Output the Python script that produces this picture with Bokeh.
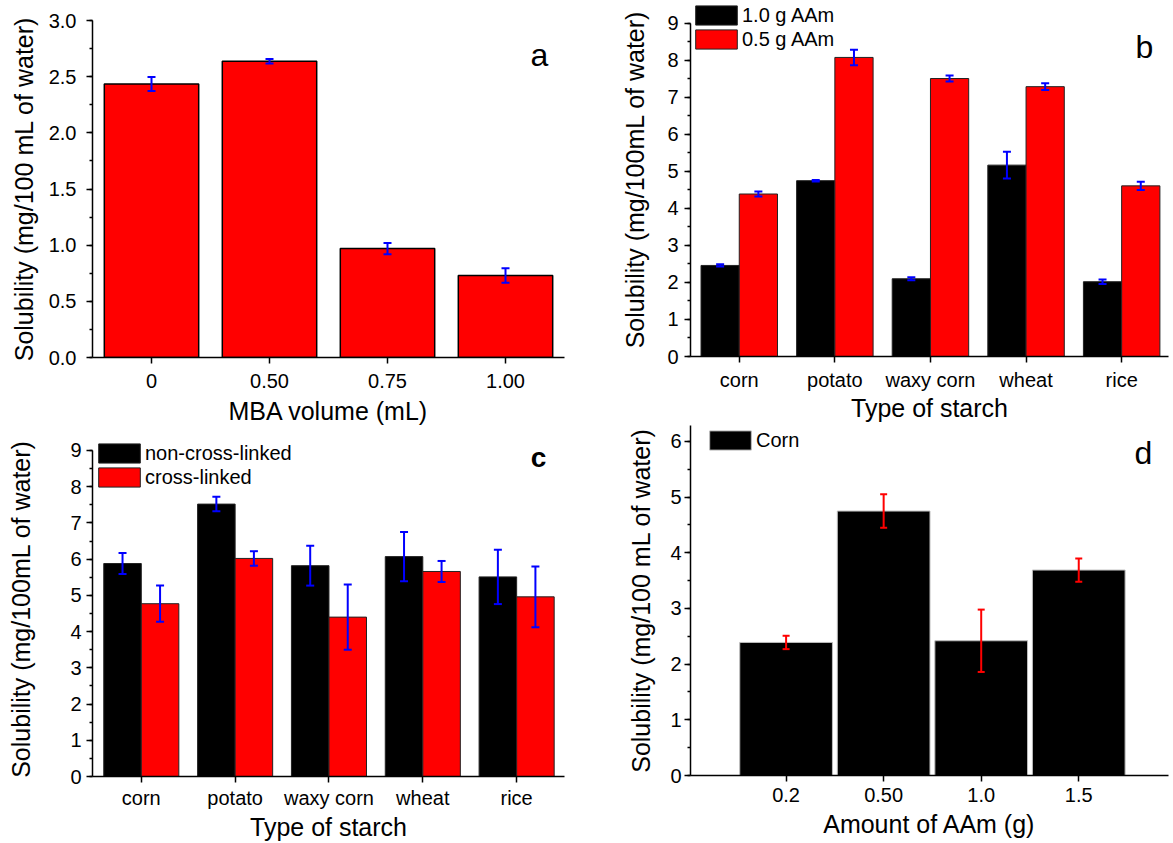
import numpy as np
from bokeh.plotting import figure
from bokeh.models import (ColumnDataSource, Whisker, TeeHead, SingleIntervalTicker, FixedTicker,
                          PrintfTickFormatter, Legend, LegendItem, Label, Range1d)
from bokeh.layouts import row, column
from bokeh.transform import dodge
from bokeh.embed import file_html
from bokeh.resources import INLINE

FONT = "Liberation Sans"
RED = "#FF0000"
BLUE = "#0000FF"

# ---- data ----
# panel a
mba_labels = ["0", "0.50", "0.75", "1.00"]
mba_solubility = [2.435, 2.638, 0.97, 0.73]
mba_error = [0.062, 0.02, 0.05, 0.065]

# panel b
starch_labels = ["corn", "potato", "waxy corn", "wheat", "rice"]
aam10_solubility = [2.46, 4.75, 2.10, 5.17, 2.02]
aam10_error = [0.03, 0.02, 0.04, 0.36, 0.06]
aam05_solubility = [4.39, 8.08, 7.51, 7.29, 4.61]
aam05_error = [0.07, 0.21, 0.08, 0.09, 0.11]

# panel c
noncross_solubility = [5.88, 7.52, 5.82, 6.07, 5.51]
noncross_error = [0.29, 0.20, 0.55, 0.68, 0.75]
cross_solubility = [4.77, 6.02, 4.40, 5.66, 4.96]
cross_error = [0.50, 0.20, 0.90, 0.29, 0.84]

# panel d
aam_labels = ["0.2", "0.50", "1.0", "1.5"]
corn_solubility = [2.39, 4.75, 2.42, 3.69]
corn_error = [0.12, 0.30, 0.56, 0.21]


def base_fig(w, h, xr, yr, ybounds, bl, br, bt, bb, xlabel, ylabel, ystep, nx, xlabels,
             ylab_standoff, ytick_standoff, xlab_standoff, xtick_standoff):
    p = figure(width=w, height=h, x_range=Range1d(*xr), y_range=Range1d(*yr),
               output_backend="svg", toolbar_location=None,
               min_border_left=bl, min_border_right=br, min_border_top=bt, min_border_bottom=bb)
    p.outline_line_color = None
    p.xgrid.visible = False
    p.ygrid.visible = False
    for ax in (p.xaxis[0], p.yaxis[0]):
        ax.axis_line_width = 1.5
        ax.axis_line_color = "black"
        ax.major_tick_line_width = 1.5
        ax.major_tick_line_color = "black"
        ax.minor_tick_line_width = 1.5
        ax.minor_tick_line_color = "black"
        ax.major_tick_in = 0
        ax.major_tick_out = 6
        ax.minor_tick_in = 0
        ax.minor_tick_out = 3
        ax.major_label_text_font = FONT
        ax.major_label_text_font_size = "20px"
        ax.major_label_text_color = "black"
        ax.axis_label_text_font = FONT
        ax.axis_label_text_font_size = "25px"
        ax.axis_label_text_font_style = "normal"
        ax.axis_label_text_color = "black"
    p.xaxis.minor_tick_line_color = None
    p.xaxis.ticker = FixedTicker(ticks=list(range(nx)))
    p.xaxis.major_label_overrides = {i: lab for i, lab in enumerate(xlabels)}
    p.yaxis.ticker = SingleIntervalTicker(interval=ystep, num_minor_ticks=2)
    if ybounds is not None:
        p.yaxis.bounds = ybounds
    p.xaxis.axis_label = xlabel
    p.yaxis.axis_label = ylabel
    p.yaxis.axis_label_standoff = ylab_standoff
    p.yaxis.major_label_standoff = ytick_standoff
    p.xaxis.axis_label_standoff = xlab_standoff
    p.xaxis.major_label_standoff = xtick_standoff
    return p


def whisker(p, src, base, upper, lower, color, size=8):
    w = Whisker(source=src, base=base, upper=upper, lower=lower,
                line_color=color, line_width=2, level="overlay",
                upper_head=TeeHead(size=size, line_color=color, line_width=2),
                lower_head=TeeHead(size=size, line_color=color, line_width=2))
    p.add_layout(w)


def panel_label(p, text, x, y, size="32px", style="normal"):
    p.add_layout(Label(x=x, y=y, x_units="screen", y_units="screen", text=text,
                       text_font=FONT, text_font_size=size, text_font_style=style,
                       text_align="center", text_baseline="alphabetic", text_color="black"))


def make_legend(p, items, loc, spacing):
    lg = Legend(items=[LegendItem(label=l, renderers=[r]) for l, r in items],
                location=loc, glyph_width=52, glyph_height=24, label_height=20,
                label_standoff=0, spacing=spacing, padding=0, margin=0,
                border_line_alpha=0, background_fill_alpha=0,
                label_text_font=FONT, label_text_font_size="20px", label_text_color="black")
    p.add_layout(lg)


# ---- panel a ----
pa = base_fig(590, 440, (-0.5, 3.5), (0, 3.0), None, 92, 26, 20, 83,
              "MBA volume (mL)", "Solubility (mg/100 mL of water)", 0.5, 4, mba_labels,
              8, 10, 6, 10)
pa.yaxis.formatter = PrintfTickFormatter(format="%.1f")
src_a = ColumnDataSource(dict(x=list(range(len(mba_labels))), y=mba_solubility,
                              up=list(np.array(mba_solubility) + np.array(mba_error)),
                              lo=list(np.array(mba_solubility) - np.array(mba_error))))
pa.vbar(x="x", top="y", width=0.8, source=src_a, fill_color=RED, line_color="black", line_width=1.5)
whisker(pa, src_a, "x", "up", "lo", BLUE)
panel_label(pa, "a", 447, 303)

# ---- panel b ----
pb = base_fig(583, 424, (-0.51, 4.49), (0, 9.564), (0, 9), 100, 5, 2, 66,
              "Type of starch", "Solubility (mg/100mL of water)", 1, 5, starch_labels,
              15, 6, 0, 6)
src_b = ColumnDataSource(dict(
    x=list(range(len(starch_labels))),
    k=aam10_solubility, r=aam05_solubility,
    k_up=list(np.array(aam10_solubility) + np.array(aam10_error)),
    k_lo=list(np.array(aam10_solubility) - np.array(aam10_error)),
    r_up=list(np.array(aam05_solubility) + np.array(aam05_error)),
    r_lo=list(np.array(aam05_solubility) - np.array(aam05_error))))
rb1 = pb.vbar(x=dodge("x", -0.2), top="k", width=0.4, source=src_b,
              fill_color="black", line_color="#222222", line_width=1)
rb2 = pb.vbar(x=dodge("x", 0.2), top="r", width=0.4, source=src_b,
              fill_color=RED, line_color="#222222", line_width=1)
whisker(pb, src_b, dodge("x", -0.2), "k_up", "k_lo", BLUE)
whisker(pb, src_b, dodge("x", 0.2), "r_up", "r_lo", BLUE)
make_legend(pb, [("1.0 g AAm", rb1), ("0.5 g AAm", rb2)], (0, 305), 0)
panel_label(pb, "b", 454, 310)

# ---- panel c ----
pc = base_fig(590, 403, (-0.52, 4.51), (0, 9.248), (0, 9), 92, 11, 1, 66,
              "Type of starch", "Solubility (mg/100mL of water)", 1, 5, starch_labels,
              32, 5, 1, 4)
src_c = ColumnDataSource(dict(
    x=list(range(len(starch_labels))),
    k=noncross_solubility, r=cross_solubility,
    k_up=list(np.array(noncross_solubility) + np.array(noncross_error)),
    k_lo=list(np.array(noncross_solubility) - np.array(noncross_error)),
    r_up=list(np.array(cross_solubility) + np.array(cross_error)),
    r_lo=list(np.array(cross_solubility) - np.array(cross_error))))
rc1 = pc.vbar(x=dodge("x", -0.2), top="k", width=0.4, source=src_c,
              fill_color="black", line_color="#222222", line_width=1)
rc2 = pc.vbar(x=dodge("x", 0.2), top="r", width=0.4, source=src_c,
              fill_color=RED, line_color="#222222", line_width=1)
whisker(pc, src_c, dodge("x", -0.2), "k_up", "k_lo", BLUE)
whisker(pc, src_c, dodge("x", 0.2), "r_up", "r_lo", BLUE)
make_legend(pc, [("non-cross-linked", rc1), ("cross-linked", rc2)], (1, 287), -2)
panel_label(pc, "c", 446, 319, size="28px", style="bold")

# ---- panel d ----
pd_ = base_fig(583, 419, (-0.98, 3.92), (0, 6.287), None, 100, 0, 1, 68,
               "Amount of AAm (g)", "Solubility (mg/100 mL of water)", 1, 4, aam_labels,
               12, 3, 5, 6)
src_d = ColumnDataSource(dict(x=list(range(len(aam_labels))), y=corn_solubility,
                              up=list(np.array(corn_solubility) + np.array(corn_error)),
                              lo=list(np.array(corn_solubility) - np.array(corn_error))))
rd = pd_.vbar(x="x", top="y", width=0.95, source=src_d, fill_color="black",
              line_color="#bbbbbb", line_width=1)
whisker(pd_, src_d, "x", "up", "lo", RED, size=7)
make_legend(pd_, [("Corn", rd)], (14, 323), 0)
panel_label(pd_, "d", 453, 323)

layout = row(column(pa, pc, spacing=0), column(pb, pd_, spacing=0), spacing=0)

with open("out.html", "w") as f:
    f.write(file_html(layout, INLINE))
